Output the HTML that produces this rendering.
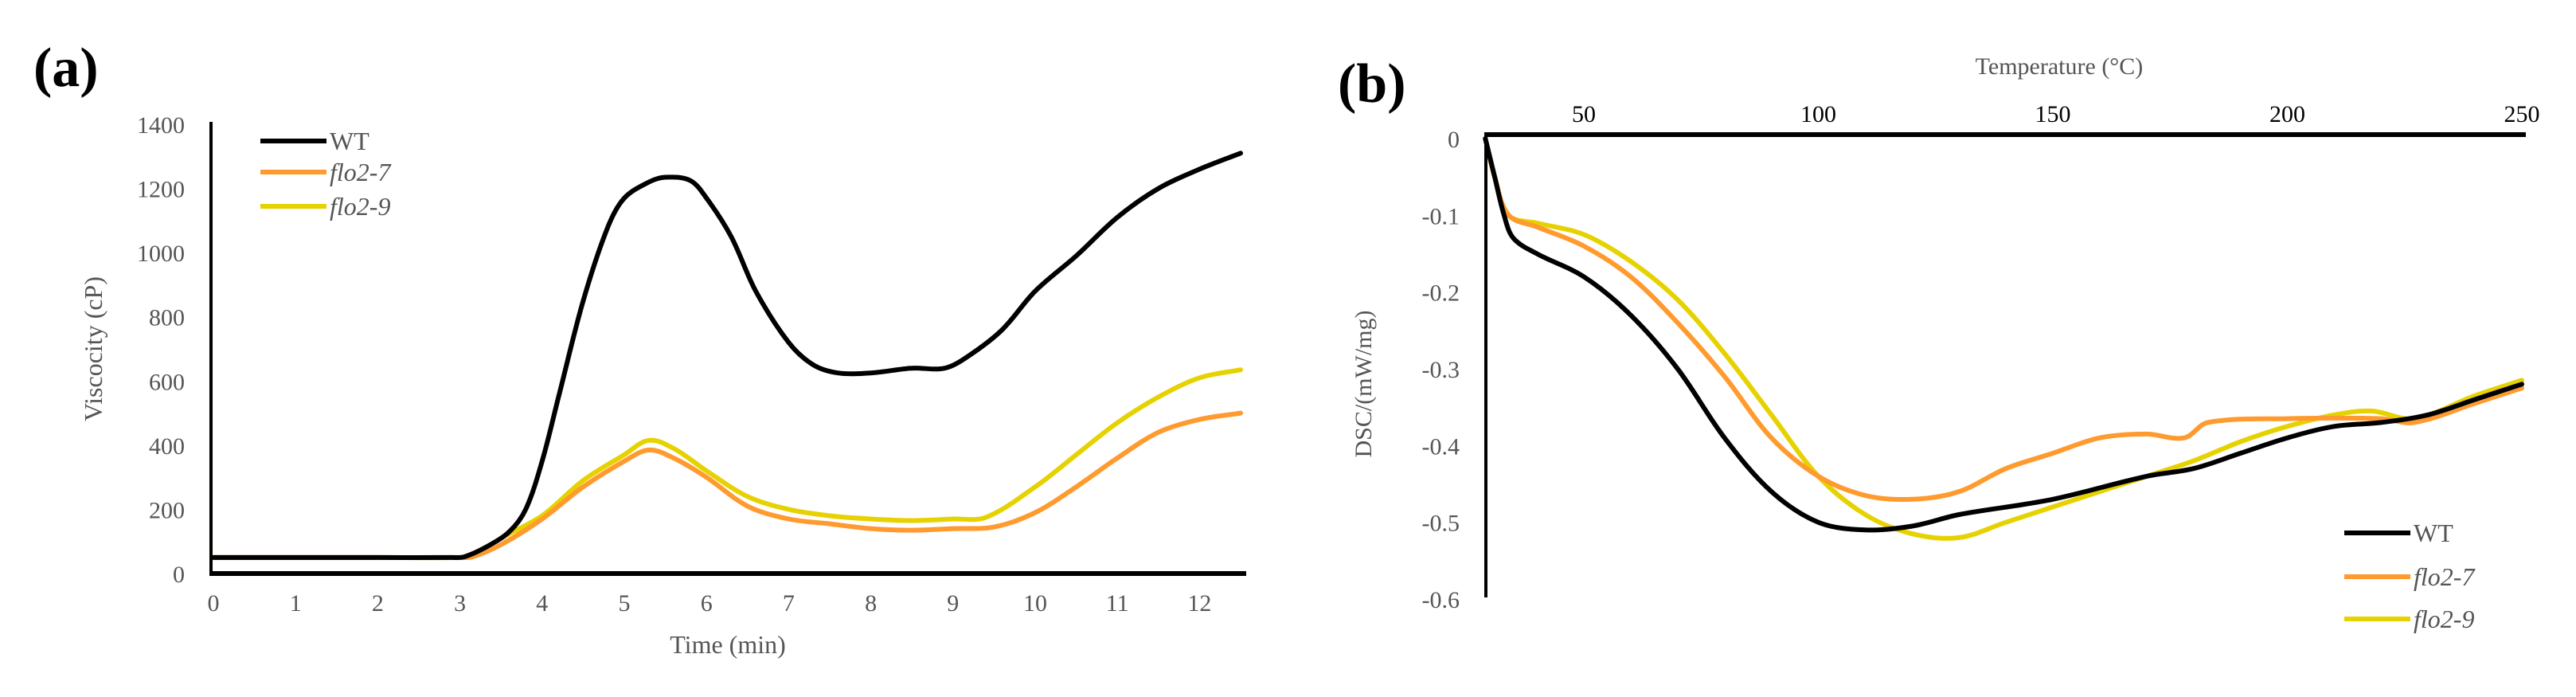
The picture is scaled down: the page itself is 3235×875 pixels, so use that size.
<!DOCTYPE html>
<html><head><meta charset="utf-8"><style>
html,body{margin:0;padding:0;background:#fff;}
svg{display:block;font-family:"Liberation Serif",serif;}
</style></head><body>
<svg id="fig" width="3235" height="875" viewBox="0 0 3235 875" xmlns="http://www.w3.org/2000/svg">
<text x="42" y="108" font-size="70" font-weight="bold">(a)</text>
<text x="1680" y="128" font-size="70" font-weight="bold">(b)</text>
<g id="ga"></g>
<g id="gb"></g>
</svg>
<script>
// Panel (a) data
const aTimeWT=[0,1,2,2.9,3.05,3.3,3.6,3.8,4,4.2,4.5,4.8,5,5.3,5.5,5.8,6,6.3,6.6,7,7.3,7.6,8,8.5,8.9,9.2,9.6,10,10.5,11,11.5,12,12.5];
const aWT=[50,50,50,50,52,80,130,200,350,550,850,1080,1170,1220,1235,1225,1170,1050,880,720,650,625,625,640,640,680,760,880,990,1110,1200,1260,1310];
const aTime7=[0,1,2,3,3.15,3.5,4,4.5,5,5.3,5.6,6,6.5,7,7.5,8,8.5,9,9.5,10,10.5,11,11.5,12,12.5];
const aF7=[50,50,50,50,52,90,170,270,350,385,360,300,210,170,155,140,135,140,145,190,270,360,440,480,500];
const aTime9=[0,1,2,3,3.15,3.5,4,4.5,5,5.3,5.6,6,6.5,7,7.5,8,8.5,9,9.4,10,10.5,11,11.5,12,12.5];
const aF9=[50,50,50,50,55,110,180,290,370,415,390,320,240,200,180,170,165,170,175,270,370,470,550,610,635];
const aXTicks=[0,1,2,3,4,5,6,7,8,9,10,11,12];
const aYTicks=[0,200,400,600,800,1000,1200,1400];
// Panel (b) data
const bTempWT=[29,31,33,35,40,50,60,70,80,90,100,110,120,130,150,170,180,190,200,210,220,230,240,250];
const bWT=[0,-0.05,-0.1,-0.13,-0.15,-0.18,-0.23,-0.3,-0.39,-0.46,-0.5,-0.51,-0.505,-0.49,-0.47,-0.44,-0.43,-0.41,-0.39,-0.375,-0.37,-0.36,-0.34,-0.32];
const bTemp7=[29,31,34,40,50,60,70,80,90,100,110,120,130,140,150,160,170,178,183,200,220,227,240,250];
const bF7=[0,-0.05,-0.1,-0.115,-0.14,-0.18,-0.24,-0.31,-0.39,-0.44,-0.465,-0.47,-0.46,-0.43,-0.41,-0.39,-0.385,-0.39,-0.37,-0.365,-0.365,-0.37,-0.345,-0.325];
const bTemp9=[29,31,34,40,50,60,70,80,90,100,110,120,130,140,150,160,170,180,190,200,210,218,227,240,250];
const bF9=[0,-0.05,-0.1,-0.11,-0.125,-0.16,-0.21,-0.28,-0.36,-0.44,-0.49,-0.515,-0.52,-0.5,-0.48,-0.46,-0.44,-0.42,-0.395,-0.375,-0.36,-0.355,-0.365,-0.335,-0.315];
const bXTicks=[50,100,150,200,250];
const bYTicks=[0,-0.1,-0.2,-0.3,-0.4,-0.5,-0.6];

const NS="http://www.w3.org/2000/svg";
function mk(parent,tag,attrs,txt){const e=document.createElementNS(NS,tag);for(const k in attrs)e.setAttribute(k,attrs[k]);if(txt!==undefined)e.textContent=txt;parent.appendChild(e);return e;}
const C={wt:"#000000",f7:"#ff9a2e",f9:"#e6d200"};

function smoothPath(pts){
  let d='M'+pts[0][0].toFixed(1)+','+pts[0][1].toFixed(1);
  // tangent per point, scaled to adjacent segment lengths to avoid overshoot
  const n=pts.length;
  const tan=pts.map((p,i)=>{
    const a=pts[Math.max(0,i-1)],b=pts[Math.min(n-1,i+1)];
    const dx=b[0]-a[0],dy=b[1]-a[1];const L=Math.hypot(dx,dy)||1;return [dx/L,dy/L];
  });
  for(let i=0;i<n-1;i++){
    const p1=pts[i],p2=pts[i+1];
    const s=Math.hypot(p2[0]-p1[0],p2[1]-p1[1])*0.33;
    const c1=[p1[0]+tan[i][0]*s,p1[1]+tan[i][1]*s];
    const c2=[p2[0]-tan[i+1][0]*s,p2[1]-tan[i+1][1]*s];
    d+=' C'+c1[0].toFixed(1)+','+c1[1].toFixed(1)+' '+c2[0].toFixed(1)+','+c2[1].toFixed(1)+' '+p2[0].toFixed(1)+','+p2[1].toFixed(1);
  }
  return d;
}
function line(g,xs,ys,fx,fy,col,name){
  const pts=xs.map((x,i)=>[fx(x),fy(ys[i])]);
  const p=mk(g,'path',{d:smoothPath(pts),fill:'none',stroke:col,'stroke-width':6,'stroke-linejoin':'round','stroke-linecap':'round'});
  
  
}

// Panel a
const ga=document.getElementById('ga');
const ax=t=>268+t*103.2, ay=v=>720-v*(564/1400);
line(ga,aTime9,aF9,ax,ay,C.f9,'flo2-9-line');
line(ga,aTime7,aF7,ax,ay,C.f7,'flo2-7-line');
line(ga,aTimeWT,aWT,ax,ay,C.wt,'wt-line');
let e=mk(ga,'line',{x1:265,y1:153,x2:265,y2:722,stroke:'#000','stroke-width':4});


e=mk(ga,'line',{x1:263,y1:720,x2:1565,y2:720,stroke:'#000','stroke-width':6});


aXTicks.forEach(t=>{const el=mk(ga,'text',{x:ax(t),y:767,'font-size':30,'text-anchor':'middle',fill:'#555'},t);

});
aYTicks.forEach(v=>{const el=mk(ga,'text',{x:232,y:ay(v)+11,'font-size':30,'text-anchor':'end',fill:'#555'},v);

});
e=mk(ga,'text',{x:914,y:820,'font-size':32,'text-anchor':'middle',fill:'#555'},'Time (min)');


e=mk(ga,'text',{x:0,y:0,'font-size':32,'text-anchor':'middle',fill:'#555',transform:'translate(128,438) rotate(-90)'},'Viscocity (cP)');


[['WT',C.wt,177,false],['flo2-7',C.f7,216,true],['flo2-9',C.f9,259,true]].forEach(d=>{
  const l=mk(ga,'line',{x1:327,y1:d[2],x2:410,y2:d[2],stroke:d[1],'stroke-width':6});
  
  
  const t=mk(ga,'text',{x:414,y:d[2]+11,'font-size':32,fill:'#555','font-style':d[3]?'italic':'normal'},d[0]);
  
  
});

// Panel b
const gb=document.getElementById('gb');
const bx=t=>1989+(t-50)*(1178/200), by=v=>174-v*(578/0.6);
line(gb,bTemp9,bF9,bx,by,C.f9,'flo2-9-line');
line(gb,bTemp7,bF7,bx,by,C.f7,'flo2-7-line');
line(gb,bTempWT,bWT,bx,by,C.wt,'wt-line');
e=mk(gb,'line',{x1:1866,y1:166,x2:1866,y2:750,stroke:'#000','stroke-width':4});


e=mk(gb,'line',{x1:1864,y1:169,x2:3172,y2:169,stroke:'#000','stroke-width':6});


bXTicks.forEach(t=>{const el=mk(gb,'text',{x:bx(t),y:153,'font-size':30,'text-anchor':'middle',fill:'#000'},t);

});
bYTicks.forEach(v=>{const el=mk(gb,'text',{x:1833,y:by(v)+11,'font-size':30,'text-anchor':'end',fill:'#555'},v===0?'0':v.toFixed(1));

});
e=mk(gb,'text',{x:2586,y:93,'font-size':30,'text-anchor':'middle',fill:'#555'},'Temperature (°C)');


e=mk(gb,'text',{x:0,y:0,'font-size':30,'text-anchor':'middle',fill:'#555',transform:'translate(1722,482) rotate(-90)'},'DSC/(mW/mg)');


[['WT',C.wt,669,false],['flo2-7',C.f7,724,true],['flo2-9',C.f9,777,true]].forEach(d=>{
  const l=mk(gb,'line',{x1:2944,y1:d[2],x2:3027,y2:d[2],stroke:d[1],'stroke-width':6});
  
  
  const t=mk(gb,'text',{x:3031,y:d[2]+11,'font-size':32,fill:'#555','font-style':d[3]?'italic':'normal'},d[0]);
  
  
});
</script>
</body></html>
